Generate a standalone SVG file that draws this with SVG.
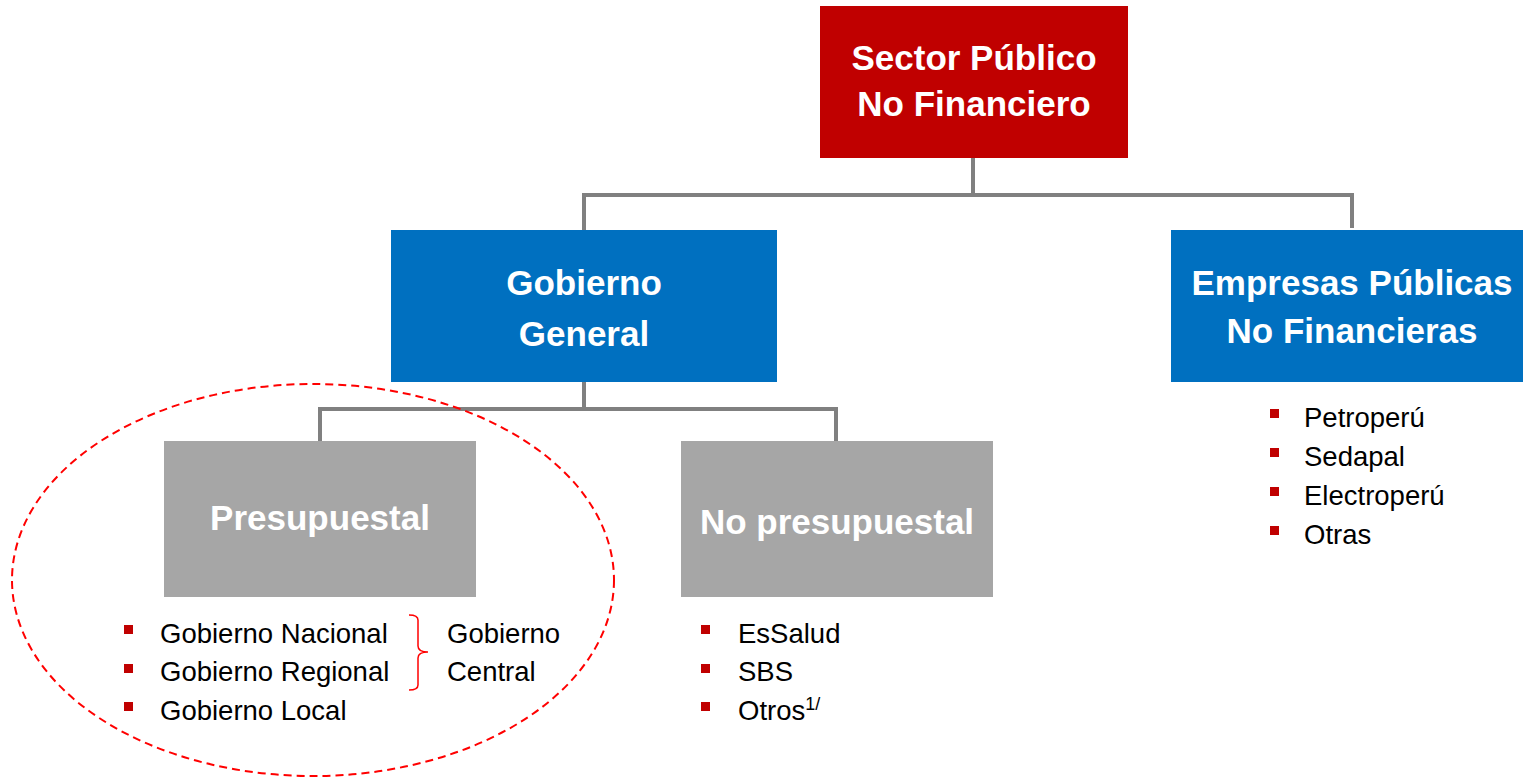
<svg xmlns="http://www.w3.org/2000/svg" width="1523" height="780" viewBox="0 0 1523 780">
<style>
.title{font-family:"Liberation Sans",Arial,sans-serif;font-weight:bold;fill:#fff;text-anchor:middle;font-size:35px}
.item{font-family:"Liberation Sans",Arial,sans-serif;fill:#000;font-size:27.5px}
.bul{fill:#C00000}
.conn{fill:none;stroke:#808080;stroke-width:4}
</style>
<rect width="1523" height="780" fill="#fff"/>
<g id="connectors">
<path class="conn" d="M973,158 V195 M584,230 V195 H1352 V228"/>
<path class="conn" d="M584,382 V409 M320,441 V409 H836 V441"/>
</g>
<g id="sector-publico">
<rect x="820" y="6" width="308" height="152" fill="#C00000"/>
<text class="title" x="974" y="70">Sector Público</text>
<text class="title" x="974" y="116">No Financiero</text>
</g>
<g id="gobierno-general">
<rect x="391" y="230" width="386" height="152" fill="#0070C0"/>
<text class="title" x="584" y="295" font-size="38">Gobierno</text>
<text class="title" x="584" y="346" font-size="38">General</text>
</g>
<g id="empresas-publicas">
<rect x="1171" y="230" width="352" height="152" fill="#0070C0"/>
<text class="title" x="1352" y="295">Empresas Públicas</text>
<text class="title" x="1352" y="343">No Financieras</text>
</g>
<g id="presupuestal">
<rect x="164" y="441" width="312" height="156" fill="#A6A6A6"/>
<text class="title" x="320" y="530" font-size="36">Presupuestal</text>
</g>
<g id="no-presupuestal">
<rect x="681" y="441" width="312" height="156" fill="#A6A6A6"/>
<text class="title" x="837" y="534" font-size="36">No presupuestal</text>
</g>
<g id="lista-presupuestal">
<rect class="bul" x="124" y="625" width="9" height="9"/>
<rect class="bul" x="124" y="664" width="9" height="9"/>
<rect class="bul" x="124" y="702" width="9" height="9"/>
<text class="item" x="160" y="643">Gobierno Nacional</text>
<text class="item" x="160" y="681">Gobierno Regional</text>
<text class="item" x="160" y="720">Gobierno Local</text>
<path d="M409,615 Q418,615 418,620 V646 Q418,652 428,652 Q418,652 418,658 V685 Q418,690 409,690" fill="none" stroke="#FF0000" stroke-width="1.5"/>
<text class="item" x="447" y="643">Gobierno</text>
<text class="item" x="447" y="681">Central</text>
</g>
<g id="lista-no-presupuestal">
<rect class="bul" x="701" y="625" width="9" height="9"/>
<rect class="bul" x="701" y="664" width="9" height="9"/>
<rect class="bul" x="701" y="702" width="9" height="9"/>
<text class="item" x="738" y="643">EsSalud</text>
<text class="item" x="738" y="681">SBS</text>
<text class="item" x="738" y="720">Otros<tspan font-size="18" dy="-10">1/</tspan></text>
</g>
<g id="lista-empresas">
<rect class="bul" x="1270" y="409" width="9" height="9"/>
<rect class="bul" x="1270" y="448" width="9" height="9"/>
<rect class="bul" x="1270" y="487" width="9" height="9"/>
<rect class="bul" x="1270" y="526" width="9" height="9"/>
<text class="item" x="1304" y="427">Petroperú</text>
<text class="item" x="1304" y="466">Sedapal</text>
<text class="item" x="1304" y="505">Electroperú</text>
<text class="item" x="1304" y="544">Otras</text>
</g>
<g id="elipse">
<ellipse cx="313" cy="580" rx="301" ry="196" fill="none" stroke="#FF0000" stroke-width="2" stroke-dasharray="8,5"/>
</g>
</svg>
